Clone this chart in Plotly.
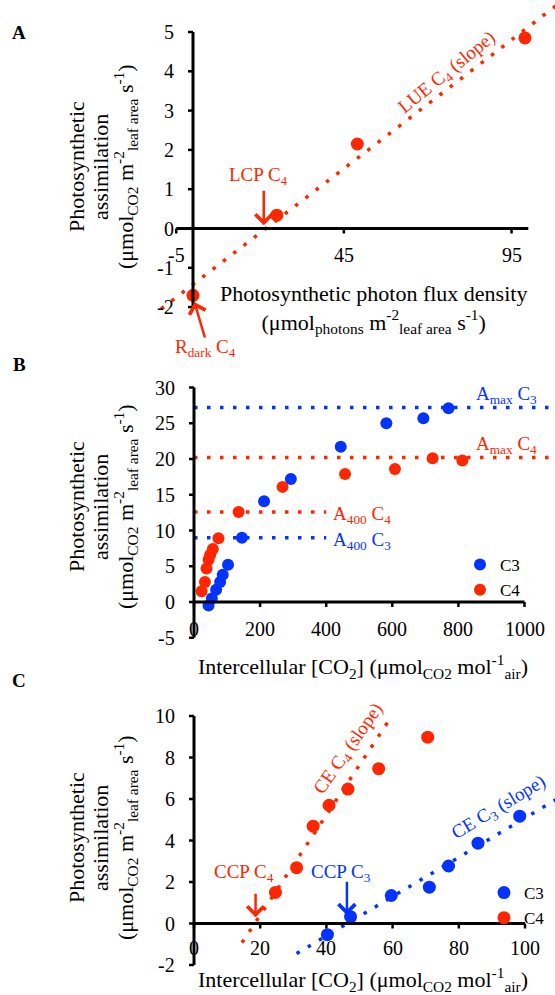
import numpy as np
import plotly.graph_objects as go

W, H = 555, 995
RED = "#FF2600"
BLUE = "#0433FF"
FONT = "Liberation Serif"

# ---------------- data ----------------
# Panel A: light response of a C4 leaf
ppfd_c4 = [0, 25, 49, 99]
a_ppfd_c4 = [-1.7, 0.34, 2.15, 4.85]
a_xticks = [-5, 45, 95]
a_yticks = [-2, -1, 0, 1, 2, 3, 4, 5]
a_xlim = [-5, 100]
a_ylim = [-2, 5]

# Panel B: A/Ci curves
ci_c3 = [44, 54, 67, 79, 87, 103, 145, 212, 293, 444, 582, 694, 770]
a_ci_c3 = [-0.5, 0.5, 1.7, 2.8, 3.8, 5.2, 9.0, 14.1, 17.2, 21.7, 25.0, 25.7, 27.1]
ci_c4 = [23, 33, 38, 44, 49, 57, 74, 135, 268, 457, 608, 722, 812]
a_ci_c4 = [1.5, 2.8, 4.7, 5.9, 6.6, 7.4, 8.9, 12.6, 16.1, 17.9, 18.6, 20.1, 19.8]
amax_c3 = 27.2
amax_c4 = 20.2
a400_c4 = 12.6
a400_c3 = 9.0
b_xticks = [0, 200, 400, 600, 800, 1000]
b_yticks = [-5, 0, 5, 10, 15, 20, 25, 30]
b_xlim = [0, 1000]
b_ylim = [-5, 30]

# Panel C: low-Ci part of the curves
ci_low_c3 = [40.3, 47.3, 59.6, 71.1, 76.9, 85.8, 98.4]
a_low_c3 = [-0.54, 0.33, 1.35, 1.75, 2.77, 3.87, 5.17]
ci_low_c4 = [24.6, 31.0, 36.0, 40.8, 46.5, 55.8, 70.6]
a_low_c4 = [1.5, 2.69, 4.69, 5.7, 6.48, 7.46, 8.98]
c_xticks = [0, 20, 40, 60, 80, 100]
c_yticks = [-2, 0, 2, 4, 6, 8, 10]
c_xlim = [0, 100]
c_ylim = [-2, 10]

# ---------------- geometry (pixel placement of each panel) ----------------
GEOM = {
    "": dict(x0=193, kx=3.353, y0=228.5, ky=39.3, top=0, bottom=362),
    "2": dict(x0=194, kx=0.3305, y0=602, ky=7.15, top=362, bottom=680),
    "3": dict(x0=194, kx=3.31, y0=923.5, ky=20.75, top=680, bottom=995),
}

TICKFONT = dict(family=FONT, size=20, color="black")
TITLEFONT = dict(family=FONT, size=22, color="black")
DOT = "3.5px,9.5px"

fig = go.Figure()
shapes, anns = [], []
layout_axes = {}
for sfx, g in GEOM.items():
    xr = [(0 - g["x0"]) / g["kx"], (W - g["x0"]) / g["kx"]]
    yr = [(g["y0"] - g["bottom"]) / g["ky"], (g["y0"] - g["top"]) / g["ky"]]
    layout_axes["xaxis" + sfx] = dict(domain=[0, 1], range=xr, visible=False,
                                      anchor="y" + sfx, fixedrange=True)
    layout_axes["yaxis" + sfx] = dict(domain=[1 - g["bottom"] / H, 1 - g["top"] / H],
                                      range=yr, visible=False, anchor="x" + sfx,
                                      fixedrange=True)


def draw_axes(sfx, xlim, ylim, xticks, yticks, xlab_shift, ylab_shift=-17):
    g = GEOM[sfx]
    xref, yref = "x" + sfx, "y" + sfx
    ax_line = dict(color="black", width=3)
    shapes.append(dict(type="line", xref=xref, yref=yref, x0=xlim[0], x1=xlim[1],
                       y0=0, y1=0, line=ax_line, layer="above"))
    shapes.append(dict(type="line", xref=xref, yref=yref, x0=0, x1=0,
                       y0=ylim[0], y1=ylim[1], line=ax_line, layer="above"))
    tl = 5
    for t in xticks:
        shapes.append(dict(type="line", xref=xref, yref=yref, x0=t, x1=t, y0=0,
                           y1=-tl / g["ky"], line=dict(color="black", width=2.5)))
        anns.append(dict(xref=xref, yref=yref, x=t, y=0, text=str(t), showarrow=False,
                         xanchor="center", yanchor="middle", yshift=xlab_shift,
                         font=TICKFONT))
    for t in yticks:
        shapes.append(dict(type="line", xref=xref, yref=yref, x0=0, x1=-tl / g["kx"],
                           y0=t, y1=t, line=dict(color="black", width=2.5)))
        anns.append(dict(xref=xref, yref=yref, x=0, y=t, text=str(t), showarrow=False,
                         xanchor="right", yanchor="middle", xshift=ylab_shift,
                         font=TICKFONT))


draw_axes("", a_xlim, a_ylim, a_xticks, a_yticks, -26)
draw_axes("2", b_xlim, b_ylim, b_xticks, b_yticks, -27)
draw_axes("3", c_xlim, c_ylim, c_xticks, c_yticks, -24)


def dotted(x, y, color, sfx):
    fig.add_trace(go.Scatter(x=x, y=y, mode="lines", xaxis="x" + sfx, yaxis="y" + sfx,
                             line=dict(color=color, width=3.5, dash=DOT),
                             showlegend=False, hoverinfo="skip"))


def points(x, y, color, sfx, size, name=None, legend=None):
    fig.add_trace(go.Scatter(x=x, y=y, mode="markers", xaxis="x" + sfx, yaxis="y" + sfx,
                             marker=dict(color=color, size=size, line=dict(width=0)),
                             name=name, showlegend=name is not None,
                             legend=legend or "legend"))


# ---- Panel A ----
fit_a = np.polyfit(ppfd_c4, a_ppfd_c4, 1)
xa = np.array([-9.5, 112])
dotted(xa, np.polyval(fit_a, xa), RED, "")
points(ppfd_c4, a_ppfd_c4, RED, "", 13)

# ---- Panel B ----
dotted([0, 1100], [amax_c3, amax_c3], BLUE, "2")
dotted([0, 1100], [amax_c4, amax_c4], RED, "2")
dotted([0, 400], [a400_c4, a400_c4], RED, "2")
dotted([0, 400], [a400_c3, a400_c3], BLUE, "2")
points(ci_c3, a_ci_c3, BLUE, "2", 12, "C3", "legend")
points(ci_c4, a_ci_c4, RED, "2", 12, "C4", "legend")

# ---- Panel C ----
fit_c4 = np.polyfit(ci_low_c4[:5], a_low_c4[:5], 1)
xc4 = np.array([14.5, 59.5])
dotted(xc4, np.polyval(fit_c4, xc4), RED, "3")
fit_c3 = np.polyfit(ci_low_c3, a_low_c3, 1)
xc3 = np.array([31, 112])
dotted(xc3, np.polyval(fit_c3, xc3), BLUE, "3")
points(ci_low_c3, a_low_c3, BLUE, "3", 13, "C3", "legend2")
points(ci_low_c4, a_low_c4, RED, "3", 13, "C4", "legend2")


# ---------------- text ----------------
def txt(sfx, x, y, text, color, size=19, angle=0, xanchor="center", yanchor="middle"):
    anns.append(dict(xref="x" + sfx, yref="y" + sfx, x=x, y=y, text=text, showarrow=False,
                     textangle=angle, xanchor=xanchor, yanchor=yanchor,
                     font=dict(family=FONT, size=size, color=color)))


def arrow(sfx, x, y, ax, ay, color):
    anns.append(dict(xref="x" + sfx, yref="y" + sfx, x=x, y=y, text="", showarrow=True,
                     ax=ax, ay=ay, arrowcolor=color, arrowwidth=2.5, arrowhead=4,
                     arrowsize=1.3))


def paper(px, py, text, font, angle=0):
    anns.append(dict(xref="paper", yref="paper", x=px / W, y=1 - py / H, text=text,
                     showarrow=False, textangle=angle, xanchor="center",
                     yanchor="middle", font=font))


# Panel A labels
txt("", 19.4, 1.34, "LCP C<sub>4</sub>", RED)
arrow("", 21.1, 0.08, 0, -36, RED)
txt("", 75.8, 3.96, "LUE C<sub>4</sub> (slope)", RED, angle=-39)
txt("", 3.6, -3.04, "R<sub>dark</sub> C<sub>4</sub>", RED)
arrow("", 0.4, -1.87, 11, 37, RED)

# Panel B labels
txt("2", 847, 29.0, "A<sub>max</sub> C<sub>3</sub>", BLUE, xanchor="left")
txt("2", 847, 22.0, "A<sub>max</sub> C<sub>4</sub>", RED, xanchor="left")
txt("2", 414, 12.2, "A<sub>400</sub> C<sub>4</sub>", RED, xanchor="left")
txt("2", 414, 8.6, "A<sub>400</sub> C<sub>3</sub>", BLUE, xanchor="left")

# Panel C labels
txt("3", 15.1, 2.43, "CCP C<sub>4</sub>", RED)
arrow("3", 18.6, 0.3, 0, -25, RED)
txt("3", 44.4, 2.43, "CCP C<sub>3</sub>", BLUE)
arrow("3", 46.2, 0.4, 0, -35, BLUE)
txt("3", 46.8, 8.41, "CE C<sub>4</sub> (slope)", RED, angle=-55)
txt("3", 92.1, 5.57, "CE C<sub>3</sub> (slope)", BLUE, angle=-31)

# Axis titles
ytitle = ["Photosynthetic", "assimilation",
          "(μmol<sub>CO2</sub> m<sup>-2</sup><sub>leaf area</sub> s<sup>-1</sup>)"]
for yc in (167, 507, 838):
    for xpx, line in zip((76, 100, 125), ytitle):
        paper(xpx, yc, line, TITLEFONT, angle=-90)

paper(373, 309, "Photosynthetic photon flux density<br>"
      "(μmol<sub>photons</sub> m<sup>-2</sup><sub>leaf area</sub> s<sup>-1</sup>)",
      TITLEFONT)
ci_title = "Intercellular [CO<sub>2</sub>] (μmol<sub>CO2</sub> mol<sup>-1</sup><sub>air</sub>)"
paper(363, 666, ci_title, TITLEFONT)
paper(363, 979, ci_title, TITLEFONT)

LETTERFONT = dict(family=FONT, size=19, color="black")
for py, letter in ((33, "A"), (364, "B"), (680, "C")):
    paper(19, py, "<b>" + letter + "</b>", LETTERFONT)

legend_style = dict(xanchor="left", yanchor="top", bgcolor="rgba(0,0,0,0)",
                    font=dict(family=FONT, size=17, color="black"), itemwidth=30,
                    tracegroupgap=0)

fig.update_layout(
    width=W, height=H, margin=dict(l=0, r=0, t=0, b=0),
    paper_bgcolor="white", plot_bgcolor="rgba(0,0,0,0)",
    showlegend=True,
    legend=dict(x=460 / W, y=1 - 547 / H, **legend_style),
    legend2=dict(x=484 / W, y=1 - 875 / H, **legend_style),
    shapes=shapes, annotations=anns, **layout_axes,
)

fig.write_html("out.html", include_plotlyjs=True, config={"displayModeBar": False},
               post_script="document.body.style.margin='0';document.body.style.overflow='hidden';")
